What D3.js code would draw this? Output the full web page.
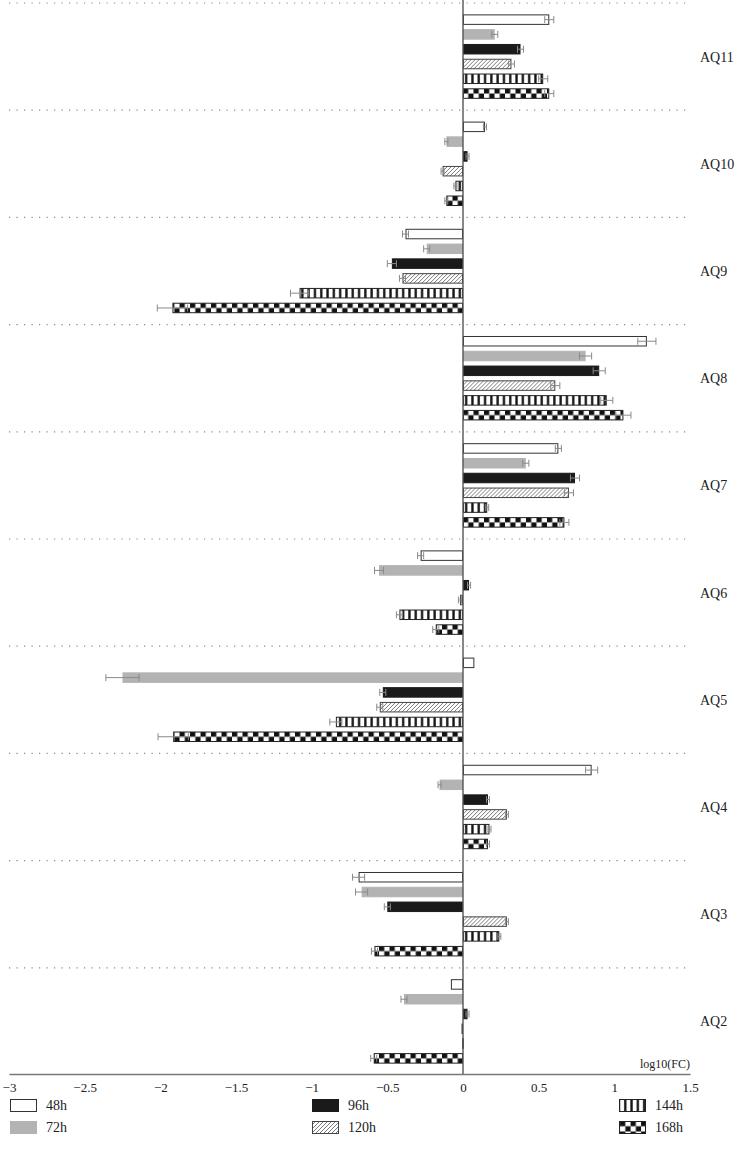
<!DOCTYPE html>
<html>
<head>
<meta charset="utf-8">
<script src="https://cdn.jsdelivr.net/npm/d3@7"></script>
<style>
  html, body { margin: 0; padding: 0; background: #fff; }
  text { font-family: "Liberation Serif", "DejaVu Serif", serif; }
</style>
</head>
<body>
<svg id="chart" width="751" height="1157"></svg>
<script>
// ---- data ----
const genes = ["AQ11", "AQ10", "AQ9", "AQ8", "AQ7", "AQ6", "AQ5", "AQ4", "AQ3", "AQ2"];
const series = ["48h", "72h", "96h", "120h", "144h", "168h"];
const v48  = [0.57, 0.145, -0.38, 1.215, 0.63, -0.28, 0.075, 0.85, -0.69, -0.08];
const v72  = [0.21, -0.11, -0.24, 0.81, 0.415, -0.555, -2.25, -0.155, -0.67, -0.39];
const v96  = [0.38, 0.03, -0.47, 0.90, 0.74, 0.04, -0.53, 0.165, -0.50, 0.03];
const v120 = [0.32, -0.135, -0.40, 0.61, 0.70, -0.02, -0.55, 0.29, 0.29, -0.01];
const v144 = [0.53, -0.05, -1.08, 0.95, 0.16, -0.42, -0.84, 0.175, 0.24, -0.005];
const v168 = [0.57, -0.11, -1.92, 1.06, 0.67, -0.18, -1.915, 0.165, -0.585, -0.59];
const e48  = [0.03, 0.01, 0.02, 0.06, 0.02, 0.02, 0.0, 0.04, 0.04, 0.0];
const e72  = [0.02, 0.01, 0.02, 0.04, 0.02, 0.03, 0.11, 0.01, 0.04, 0.02];
const e96  = [0.02, 0.01, 0.03, 0.04, 0.03, 0.01, 0.02, 0.01, 0.02, 0.01];
const e120 = [0.02, 0.01, 0.02, 0.03, 0.03, 0.01, 0.02, 0.01, 0.01, 0.0];
const e144 = [0.03, 0.01, 0.06, 0.04, 0.01, 0.02, 0.04, 0.01, 0.01, 0.0];
const e168 = [0.03, 0.01, 0.10, 0.05, 0.03, 0.02, 0.10, 0.01, 0.02, 0.02];
const tickValues = [-3, -2.5, -2, -1.5, -1, -0.5, 0, 0.5, 1, 1.5];
const axisTitle = "log10(FC)";

const values = [v48, v72, v96, v120, v144, v168];
const errors = [e48, e72, e96, e120, e144, e168];

// ---- layout ----
const svg = d3.select("#chart");
const W = 751, H = 1157;
svg.append("rect").attr("width", W).attr("height", H).attr("fill", "#fff");

const x = d3.scaleLinear().domain([-3, 1.5]).range([9, 690]);
const y = d3.scaleBand().domain(genes).range([3, 1075]).paddingInner(0).paddingOuter(0);
const yi = d3.scaleBand().domain(series).range([0, y.bandwidth()]).paddingInner(0.29).paddingOuter(0.77);
const bw = yi.bandwidth();
const axisY = 1074;

// ---- patterns ----
const defs = svg.append("defs");
const x0 = x(0);
// diagonal hatch
const ph = defs.append("pattern").attr("id", "hatch").attr("patternUnits", "userSpaceOnUse")
  .attr("width", 4).attr("height", 4);
ph.append("rect").attr("width", 4).attr("height", 4).attr("fill", "#fff");
ph.append("path").attr("d", "M-1,1 l2,-2 M0,4 l4,-4 M3,5 l2,-2")
  .attr("stroke", "#444").attr("stroke-width", 0.7);
// vertical stripes
const sp = 6.3;
const pv = defs.append("pattern").attr("id", "vstripe").attr("patternUnits", "userSpaceOnUse")
  .attr("x", x0 % sp).attr("width", sp).attr("height", 20);
pv.append("rect").attr("width", sp).attr("height", 20).attr("fill", "#fff");
pv.append("rect").attr("x", 2).attr("width", 2.3).attr("height", 20).attr("fill", "#111");
// checkerboard
const c = bw / 2;
const pc = defs.append("pattern").attr("id", "checker").attr("patternUnits", "userSpaceOnUse")
  .attr("x", x0 % (2 * c)).attr("y", 0).attr("width", 2 * c).attr("height", 2 * c);
pc.append("rect").attr("width", 2 * c).attr("height", 2 * c).attr("fill", "#fff");
pc.append("rect").attr("width", c).attr("height", c).attr("fill", "#111");
pc.append("rect").attr("x", c).attr("y", c).attr("width", c).attr("height", c).attr("fill", "#111");

const styles = {
  "48h":  { fill: "#fff", stroke: "#333" },
  "72h":  { fill: "#b3b3b3", stroke: "#b3b3b3" },
  "96h":  { fill: "#1a1a1a", stroke: "#1a1a1a" },
  "120h": { fill: "url(#hatch)", stroke: "#444" },
  "144h": { fill: "url(#vstripe)", stroke: "#222" },
  "168h": { fill: "url(#checker)", stroke: "#222" }
};

// ---- separators ----
const sepG = svg.append("g");
genes.forEach((g, i) => {
  sepG.append("line")
    .attr("x1", x(-3)).attr("x2", 688)
    .attr("y1", y(g)).attr("y2", y(g))
    .attr("stroke", "#888").attr("stroke-width", 1.2)
    .attr("stroke-dasharray", "1.2,6.3");
});

// ---- bars ----
const data = [];
genes.forEach((g, gi) => {
  series.forEach((s, si) => {
    data.push({ g, s, v: values[si][gi], e: errors[si][gi] });
  });
});

const barG = svg.append("g");
const bars = barG.selectAll("g.bar").data(data).join("g")
  .attr("class", "bar")
  .attr("transform", d => `translate(0,${y(d.g) + yi(d.s)})`);

bars.append("rect")
  .attr("x", d => Math.min(x(0), x(d.v)) + 0.5)
  .attr("y", 0.5)
  .attr("width", d => Math.max(0.5, Math.abs(x(d.v) - x(0)) - 1))
  .attr("height", bw - 1)
  .attr("fill", d => styles[d.s].fill)
  .attr("stroke", d => styles[d.s].stroke)
  .attr("stroke-width", 1);

// error bars
const eb = bars.filter(d => d.e > 0).append("g")
  .attr("stroke", "#8a8a8a").attr("stroke-width", 1).attr("fill", "none");
eb.append("line")
  .attr("x1", d => x(d.v - d.e)).attr("x2", d => x(d.v + d.e))
  .attr("y1", bw / 2).attr("y2", bw / 2);
eb.append("line")
  .attr("x1", d => x(d.v - d.e)).attr("x2", d => x(d.v - d.e))
  .attr("y1", bw / 2 - 3.5).attr("y2", bw / 2 + 3.5);
eb.append("line")
  .attr("x1", d => x(d.v + d.e)).attr("x2", d => x(d.v + d.e))
  .attr("y1", bw / 2 - 3.5).attr("y2", bw / 2 + 3.5);

// ---- zero line ----
svg.append("line")
  .attr("x1", x(0)).attr("x2", x(0))
  .attr("y1", 0).attr("y2", axisY)
  .attr("stroke", "#555").attr("stroke-width", 1.4);

// ---- gene labels ----
svg.append("g").selectAll("text").data(genes).join("text")
  .attr("x", 700)
  .attr("y", d => y(d) + y.bandwidth() / 2)
  .attr("dy", "0.35em")
  .attr("font-size", 14)
  .attr("fill", "#222")
  .text(d => d);

// ---- x axis ----
const axis = d3.axisBottom(x).tickValues(tickValues).tickSize(0).tickPadding(9)
  .tickFormat(d3.format("~g"));
const ag = svg.append("g").attr("transform", `translate(0,${axisY})`).call(axis);
ag.select(".domain").attr("stroke", "#777").attr("stroke-width", 1.3);
ag.selectAll("text").attr("font-family", "Liberation Serif, serif").attr("font-size", 13).attr("fill", "#222");

svg.append("text")
  .attr("x", 690).attr("y", axisY - 6)
  .attr("text-anchor", "end")
  .attr("font-size", 12)
  .attr("fill", "#222")
  .text(axisTitle);

// ---- legend ----
const legPos = [
  { x: 10, y: 1099 }, { x: 10, y: 1121 },
  { x: 312, y: 1099 }, { x: 312, y: 1121 },
  { x: 619, y: 1099 }, { x: 619, y: 1121 }
];
const leg = svg.append("g").selectAll("g").data(series).join("g")
  .attr("transform", (d, i) => `translate(${legPos[i].x},${legPos[i].y})`);
leg.append("rect")
  .attr("x", 0.5).attr("y", 0.5).attr("width", 26).attr("height", 12)
  .attr("fill", d => styles[d].fill)
  .attr("stroke", d => styles[d].stroke)
  .attr("stroke-width", 1);
leg.append("text")
  .attr("x", 36).attr("y", 6.5).attr("dy", "0.35em")
  .attr("font-size", 14).attr("fill", "#222")
  .text(d => d);
</script>
</body>
</html>
